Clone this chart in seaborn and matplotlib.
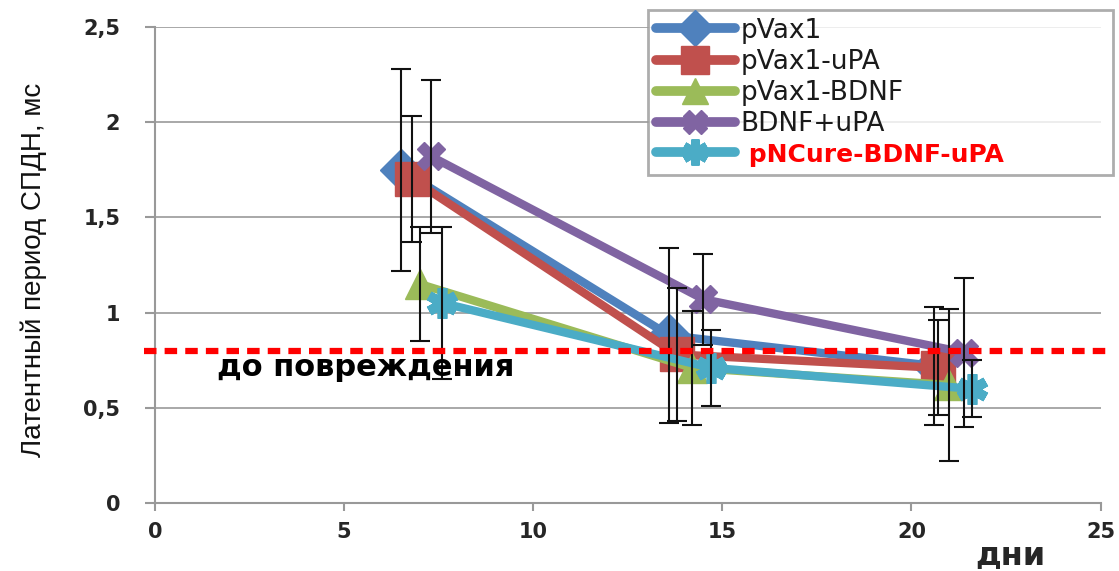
import matplotlib
matplotlib.use("Agg")
import matplotlib.pyplot as plt
import seaborn as sns
import pandas as pd
from matplotlib.lines import Line2D

sns.set_style("white")
plt.rcParams['font.family'] = ['DejaVu Sans']

series_names = ["pVax1", "pVax1-uPA", "pVax1-BDNF", "BDNF+uPA", "pNCure-BDNF-uPA"]
days_pvax1 = [6.5, 13.6, 20.6]
vals_pvax1 = [1.75, 0.88, 0.72]
err_pvax1 = [0.53, 0.46, 0.31]
days_upa = [6.8, 13.8, 20.7]
vals_upa = [1.70, 0.78, 0.71]
err_upa = [0.33, 0.35, 0.25]
days_bdnf = [7.0, 14.2, 21.0]
vals_bdnf = [1.15, 0.71, 0.62]
err_bdnf = [0.30, 0.30, 0.40]
days_bdnf_upa = [7.3, 14.5, 21.4]
vals_bdnf_upa = [1.82, 1.07, 0.79]
err_bdnf_upa = [0.40, 0.24, 0.39]
days_ncure = [7.6, 14.7, 21.6]
vals_ncure = [1.05, 0.71, 0.60]
err_ncure = [0.40, 0.20, 0.15]
baseline = 0.8
baseline_label = "до повреждения"
x_ticks = [0, 5, 10, 15, 20, 25]
y_ticks = [0, 0.5, 1, 1.5, 2, 2.5]
y_tick_labels = ["0", "0,5", "1", "1,5", "2", "2,5"]

colors = ["#4F81BD", "#C0504D", "#9BBB59", "#8064A2", "#4BACC6"]
markers = ["D", "s", "^", "X", (6, 2, 0)]
msizes = [21, 24, 22, 20, 22]

data = [
    (days_pvax1, vals_pvax1, err_pvax1),
    (days_upa, vals_upa, err_upa),
    (days_bdnf, vals_bdnf, err_bdnf),
    (days_bdnf_upa, vals_bdnf_upa, err_bdnf_upa),
    (days_ncure, vals_ncure, err_ncure),
]

fig = plt.figure(figsize=(11.19, 5.71), dpi=100)
ax = fig.add_axes([0.1385, 0.119, 0.845, 0.834])

for i, (name, (xs, ys, es)) in enumerate(zip(series_names, data)):
    df = pd.DataFrame({"x": xs, "y": ys})
    mew = 7 if i == 4 else 1
    sns.lineplot(data=df, x="x", y="y", ax=ax, color=colors[i], linewidth=6,
                 marker=markers[i], markersize=msizes[i], markeredgecolor=colors[i],
                 markeredgewidth=mew, zorder=3 + i * 0.1, legend=False)
    ax.errorbar(xs, ys, yerr=es, fmt="none", ecolor="#111111", elinewidth=1.5,
                capsize=7, capthick=1.5, zorder=4)

ax.axhline(baseline, xmin=-0.012, xmax=1.006, color="red", linestyle=(0, (2.0, 1.3)),
           linewidth=4.5, zorder=6, clip_on=False)
ax.text(1.65, 0.71, baseline_label, fontsize=22, fontweight="bold", color="black",
        va="center", ha="left", zorder=7)

ax.set_xlim(0, 25)
ax.set_ylim(0, 2.5)
ax.set_xticks(x_ticks)
ax.set_yticks(y_ticks)
ax.set_yticklabels(y_tick_labels)
ax.tick_params(axis="both", labelsize=15, color="#999999", direction="out", width=1.5,
               bottom=True, left=True)
ax.tick_params(axis="y", length=7, pad=18)
ax.tick_params(axis="x", length=6, pad=8)
for lab in ax.get_xticklabels() + ax.get_yticklabels():
    lab.set_fontweight("bold")
ax.yaxis.grid(True, color="#999999", linewidth=1.2)
ax.xaxis.grid(False)
for s in ["top", "right"]:
    ax.spines[s].set_visible(False)
for s in ["left", "bottom"]:
    ax.spines[s].set_color("#999999")
    ax.spines[s].set_linewidth(1.5)

ax.set_xlabel("")
ax.set_ylabel("Латентный период СПДН, мс", fontsize=20, color="#111111",
              family=["Liberation Sans Narrow", "Liberation Sans", "DejaVu Sans"])
ax.yaxis.set_label_coords(-0.114, 0.49)
fig.text(0.903, 0.027, "дни", fontsize=23, fontweight="bold", ha="center", va="center")

handles = []
for i, name in enumerate(series_names):
    mew = 6 if i == 4 else 1
    handles.append(Line2D([0], [0], color=colors[i], linewidth=7, marker=markers[i],
                          markersize=msizes[i] * 0.85, markeredgecolor=colors[i],
                          markeredgewidth=mew))
labels = list(series_names)
labels[4] = " " + labels[4]
leg = fig.legend(handles, labels, loc="upper left",
                 bbox_to_anchor=(0.579, 0.69, 0.416, 0.293), mode="expand",
                 bbox_transform=fig.transFigure, fontsize=19, frameon=True,
                 fancybox=False, edgecolor="#999999", handlelength=3.0,
                 labelspacing=0.2, borderpad=0.3, handletextpad=0.2,
                 borderaxespad=0.0)
leg.get_frame().set_linewidth(2)
txts = leg.get_texts()
for t in txts[:4]:
    t.set_color("#1a1a1a")
txts[4].set_color("red")
txts[4].set_fontweight("bold")
txts[4].set_fontsize(18)
leg.set_zorder(10)

fig.savefig("out.png", dpi=100)
